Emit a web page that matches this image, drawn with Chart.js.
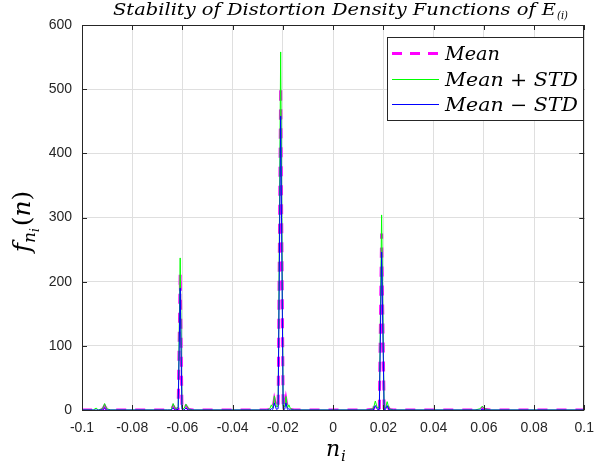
<!DOCTYPE html>
<html><head><meta charset="utf-8">
<script src="https://cdn.jsdelivr.net/npm/chart.js@4/dist/chart.umd.min.js"></script>
<style>html,body{margin:0;padding:0;background:#fff;}canvas{display:block;}</style>
</head><body>
<canvas id="c" width="604" height="469"></canvas>
<script>
// ---- data ----
const xValues = [
  -0.1, -0.0955, -0.0944, -0.0935, -0.0918, -0.091, -0.0902, -0.0885,
  -0.066, -0.0645, -0.0637, -0.0628, -0.0617, -0.0609, -0.0602, -0.0594, -0.0586, -0.0576, -0.056,
  -0.0265, -0.0252, -0.0246, -0.024, -0.0234, -0.0226, -0.0219, -0.0209, -0.0199, -0.0193, -0.0188, -0.0182, -0.0176, -0.017, -0.0155,
  0.0135, 0.016, 0.0168, 0.0176, 0.0184, 0.0193, 0.0203, 0.0209, 0.0215, 0.0223, 0.024,
  0.0565, 0.0586, 0.0594, 0.0602, 0.0625, 0.1
];
const meanValues = [
  0, 0, 1, 0, 1, 6, 1, 0,
  0, 0, 6, 1, 2, 213, 2, 1, 6, 1, 0,
  0, 1, 5, 2, 16, 3, 4, 505, 4, 3, 16, 2, 5, 1, 0,
  0, 1, 10, 2, 3, 275, 3, 2, 10, 1, 0,
  0, 1, 3, 1, 0, 0
];
const meanPlusStd = [
  0, 0, 3, 0, 2, 10, 2, 0,
  0, 0, 10, 2, 4, 237, 4, 2, 9, 2, 0,
  0, 2, 8, 3, 22, 5, 6, 558, 6, 5, 21, 3, 8, 2, 0,
  0, 2, 14, 3, 5, 304, 5, 3, 13, 2, 0,
  0, 2, 6, 2, 0, 0
];
const meanMinusStd = [
  0, 0, 0, 0, 0, 3, 0, 0,
  0, 0, 3, 0, 1, 190, 1, 0, 3, 0, 0,
  0, 0, 2, 1, 11, 1, 2, 458, 2, 1, 11, 1, 2, 0, 0,
  0, 0, 7, 1, 1, 246, 1, 1, 7, 0, 0,
  0, 0, 1, 0, 0, 0
];
const xTicks = [-0.1, -0.08, -0.06, -0.04, -0.02, 0, 0.02, 0.04, 0.06, 0.08, 0.1];
const yTicks = [0, 100, 200, 300, 400, 500, 600];
const seriesNames = ['Mean', 'Mean + STD', 'Mean \u2212 STD'];
const seriesColors = ['#ff00ff', '#00ff00', '#0000ff'];
const titleMain = 'Stability of Distortion Density Functions of E';
const titleSub = '(i)';

// ---- drawing ----
Chart.defaults.font.family = "'Liberation Sans', Arial, sans-serif";
const MATH = "'DejaVu Serif', serif";
const AX = '#262626';

function fitText(ctx, text, x, y, font, targetW) {
  ctx.save();
  ctx.font = font;
  const w = ctx.measureText(text).width;
  ctx.translate(x, y);
  ctx.scale(targetW / w, 1);
  ctx.textAlign = 'left';
  ctx.textBaseline = 'alphabetic';
  ctx.fillText(text, 0, 0);
  ctx.restore();
}

const decor = {
  id: 'decor',
  afterDatasetsDraw(chart) {
    const ctx = chart.ctx, a = chart.chartArea;
    const xs = chart.scales.x, ys = chart.scales.y;
    ctx.save();
    ctx.strokeStyle = AX; ctx.lineWidth = 1;
    ctx.strokeRect(Math.round(a.left) + 0.5, Math.round(a.top) + 0.5, Math.round(a.right - a.left) - 1, Math.round(a.bottom - a.top));
    ctx.beginPath();
    xTicks.forEach(v => {
      const px = Math.round(xs.getPixelForValue(v)) + 0.5;
      ctx.moveTo(px, a.bottom); ctx.lineTo(px, a.bottom - 5);
      ctx.moveTo(px, a.top); ctx.lineTo(px, a.top + 5);
    });
    yTicks.forEach(v => {
      const py = Math.round(ys.getPixelForValue(v)) + 0.5;
      ctx.moveTo(a.left, py); ctx.lineTo(a.left + 5, py);
      ctx.moveTo(a.right, py); ctx.lineTo(a.right - 5, py);
    });
    ctx.stroke();
    ctx.restore();
  },
  afterDraw(chart) {
    const ctx = chart.ctx, a = chart.chartArea;
    ctx.save();
    ctx.fillStyle = '#000';
    // title
    fitText(ctx, titleMain, 113, 15, 'italic 16px ' + MATH, 443);
    fitText(ctx, titleSub, 557, 19, 'italic 11px ' + MATH, 11);

    // legend
    const L = 387, T = 37, R = 583, B = 120;
    ctx.fillStyle = '#fff';
    ctx.fillRect(L, T, R - L, B - T);
    ctx.strokeStyle = AX; ctx.lineWidth = 1;
    ctx.strokeRect(L + 0.5, T + 0.5, R - L, B - T);
    const rows = [53, 79, 104];
    const widths = [55, 133, 133];
    rows.forEach((ry, i) => {
      ctx.beginPath();
      ctx.strokeStyle = seriesColors[i];
      if (i === 0) { ctx.lineWidth = 3; ctx.setLineDash([10, 8]); }
      else { ctx.lineWidth = 1; ctx.setLineDash([]); }
      ctx.moveTo(392, ry + 0.5); ctx.lineTo(439, ry + 0.5);
      ctx.stroke();
      ctx.setLineDash([]);
      ctx.fillStyle = '#000';
      fitText(ctx, seriesNames[i], 445, ry + 6.5, 'italic 18px ' + MATH, widths[i]);
    });

    // x label n_i
    ctx.fillStyle = '#000';
    ctx.font = 'italic 22px ' + MATH;
    ctx.textAlign = 'left'; ctx.textBaseline = 'alphabetic';
    ctx.fillText('n', 326, 456);
    ctx.font = 'italic 15px ' + MATH;
    ctx.fillText('i', 341, 461);

    // y label f_{n_i}(n), rotated
    const runs = [
      { t: 'f', f: 'italic 25px ' + MATH, dy: 0 },
      { t: 'n', f: 'italic 17px ' + MATH, dy: 5 },
      { t: 'i', f: 'italic 12px ' + MATH, dy: 9 },
      { t: '(', f: '25px ' + MATH, dy: 0 },
      { t: 'n', f: 'italic 25px ' + MATH, dy: 0 },
      { t: ')', f: '25px ' + MATH, dy: 0 }
    ];
    let W = 0;
    runs.forEach(r => { ctx.font = r.f; r.w = ctx.measureText(r.t).width; W += r.w; });
    W += 2;
    ctx.translate(30, (a.top + a.bottom) / 2 + 4);
    ctx.rotate(-Math.PI / 2);
    let u = -W / 2;
    runs.forEach((r, i) => {
      ctx.font = r.f;
      ctx.fillText(r.t, u, r.dy);
      u += r.w + (i === 2 ? 2 : 0);
    });
    ctx.restore();
  }
};

const toPts = ys => xValues.map((x, i) => ({ x: x, y: ys[i] }));
const fmt = v => String(+(+v).toFixed(2));

new Chart(document.getElementById('c').getContext('2d'), {
  type: 'line',
  data: {
    datasets: [
      { label: seriesNames[0], data: toPts(meanValues), borderColor: seriesColors[0], borderWidth: 3, borderDash: [10, 9], pointRadius: 0, tension: 0, order: 3 },
      { label: seriesNames[1], data: toPts(meanPlusStd), borderColor: seriesColors[1], borderWidth: 1, pointRadius: 0, tension: 0, order: 2 },
      { label: seriesNames[2], data: toPts(meanMinusStd), borderColor: seriesColors[2], borderWidth: 1, pointRadius: 0, tension: 0, order: 1 }
    ]
  },
  options: {
    responsive: false, animation: false, devicePixelRatio: 1,
    layout: { autoPadding: false, padding: { top: 25, right: 10, left: 0, bottom: 0 } },
    plugins: { legend: { display: false }, title: { display: false }, tooltip: { enabled: false } },
    scales: {
      x: {
        type: 'linear', min: -0.1, max: 0.1,
        afterBuildTicks: s => { s.ticks = xTicks.map(v => ({ value: v })); },
        afterFit: s => { s.height = 59; },
        ticks: { callback: fmt, color: AX, font: { size: 14 }, padding: 10, maxRotation: 0, autoSkip: false },
        grid: { color: '#dfdfdf', drawTicks: false },
        border: { display: false }
      },
      y: {
        type: 'linear', min: 0, max: 600,
        afterBuildTicks: s => { s.ticks = yTicks.map(v => ({ value: v })); },
        afterFit: s => { s.width = 82; },
        ticks: { callback: fmt, color: AX, font: { size: 14 }, padding: 10, autoSkip: false },
        grid: { color: '#dfdfdf', drawTicks: false },
        border: { display: false }
      }
    }
  },
  plugins: [decor]
});
</script>
</body></html>
